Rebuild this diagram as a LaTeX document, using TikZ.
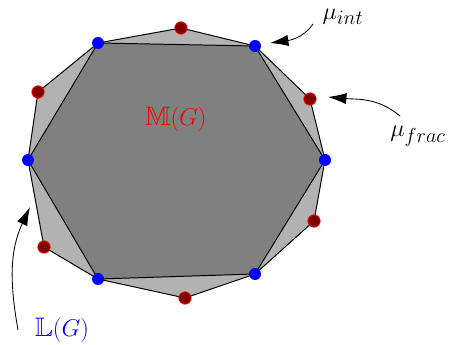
\documentclass[tikz,border=0pt]{standalone}
\usepackage{amsmath,amssymb}
\usepackage{tikz}
\usetikzlibrary{arrows.meta}
\tikzset{
  outerpoly/.style = {draw, fill=black!30, line width=0.7pt, line join=round},
  innerpoly/.style = {draw, fill=black!50, line width=0.7pt, line join=round},
  bdot/.style  = {circle, fill=blue, inner sep=0pt, minimum size=3mm},
  rdot/.style  = {circle, fill=red!50!black, draw=red, line width=0.5pt,
                  inner sep=0pt, minimum size=3.1mm},
  lbl/.style   = {font=\fontsize{19}{22}\selectfont, inner sep=1pt},
  arr/.style   = {-{Latex[length=4.6mm,width=2.8mm]}, line width=0.6pt}
}
\begin{document}
\begin{tikzpicture}[x=0.25mm, y=0.25mm]
\useasboundingbox (0,0) rectangle (449,-345);

% --- vertices (blue: integral, red: fractional) ---
\foreach \n/\x/\y in {b1/98/43, b2/255/46, b3/325/160, b4/255/274, b5/98/279, b6/28/160,
                      r1/181/28, r2/310/99, r3/314/221, r4/185/298, r5/44/247, r6/38/92} {
  \coordinate (\n) at (\x,-\y);
}

% --- polytopes ---
\draw[outerpoly] (b1) -- (r1) -- (b2) -- (r2) -- (b3) -- (r3) -- (b4) -- (r4)
                 -- (b5) -- (r5) -- (b6) -- (r6) -- cycle;
\draw[innerpoly] (b1) -- (b2) -- (b3) -- (b4) -- (b5) -- (b6) -- cycle;

\foreach \i in {1,...,6} {
  \node[bdot] at (b\i) {};
  \node[rdot] at (r\i) {};
}

% --- labels ---
\node[lbl, text=red]  (MG)    at (176,-119) {$\mathbb{M}(G)$};
\node[lbl, text=blue] (LG)    at (62,-330)  {$\mathbb{L}(G)$};
\node[lbl]            (mint)  at (343,-17)  {$\mu_{int}$};
\node[lbl]            (mfrac) at (418,-136) {$\mu_{frac}$};

% --- pointers ---
\coordinate (mintT)  at (313,-24);
\coordinate (mintH)  at (270,-43);
\coordinate (mfracT) at (400,-116);
\coordinate (mfracH) at (328,-97);
\coordinate (LGT)    at (18,-330);
\coordinate (LGH)    at (30,-207);
\draw[arr] (mintT) to[out=-125, in=8] (mintH);
\draw[arr] (mfracT) to[out=140, in=-5] (mfracH);
\draw[arr] (LGT) to[out=100, in=245] (LGH);

\end{tikzpicture}
\end{document}
